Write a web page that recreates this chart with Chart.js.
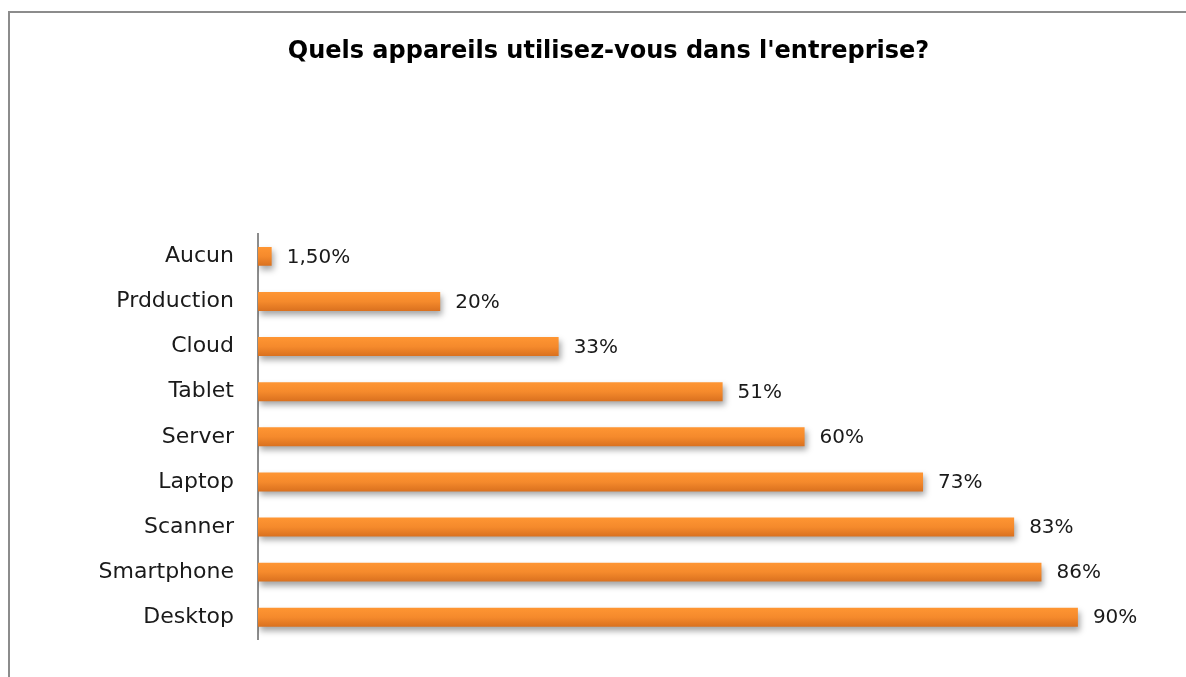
<!DOCTYPE html>
<html>
<head>
<meta charset="utf-8">
<script src="https://cdn.jsdelivr.net/npm/chart.js@4"></script>
<style>
    html, body { margin: 0; padding: 0; background: #fff; }
    #frame {
        position: absolute; left: 8px; top: 11px; width: 1200px; height: 700px;
        border-left: 2px solid #8c8c8c; border-top: 2px solid #8c8c8c;
    }
    #wrap { position: absolute; left: 0; top: 0; width: 1186px; height: 677px; }
</style>
</head>
<body>
<div id="frame"></div>
<div id="wrap"><canvas id="devicesChart"></canvas></div>
<script>
const categories = ['Aucun', 'Prdduction', 'Cloud', 'Tablet', 'Server', 'Laptop', 'Scanner', 'Smartphone', 'Desktop'];
const values = [1.5, 20, 33, 51, 60, 73, 83, 86, 90];
const valueLabels = ['1,50%', '20%', '33%', '51%', '60%', '73%', '83%', '86%', '90%'];

const FONT = "'DejaVu Sans', sans-serif";
const LEFT_PAD = 48;

// ombre portée sous les barres
const shadowPlugin = {
    id: 'barShadow',
    beforeDatasetsDraw(chart) {
        const ctx = chart.ctx;
        ctx.save();
        ctx.shadowColor = 'rgba(0,0,0,0.35)';
        ctx.shadowBlur = 6;
        ctx.shadowOffsetX = 2;
        ctx.shadowOffsetY = 4;
    },
    afterDatasetsDraw(chart) {
        chart.ctx.restore();
    }
};

// étiquettes de valeur à droite des barres
const valueLabelPlugin = {
    id: 'valueLabels',
    afterDatasetsDraw(chart) {
        const ctx = chart.ctx;
        const meta = chart.getDatasetMeta(0);
        ctx.save();
        ctx.font = '20px ' + FONT;
        ctx.fillStyle = '#1a1a1a';
        ctx.textAlign = 'left';
        ctx.textBaseline = 'middle';
        meta.data.forEach((bar, i) => {
            ctx.fillText(valueLabels[i], bar.x + 15, bar.y + 1);
        });
        ctx.restore();
    }
};

function barGradient(context) {
    const chart = context.chart;
    const y = chart.scales.y;
    if (!y || y.top === undefined) return '#f5862a';
    const py = y.getPixelForValue(context.dataIndex);
    const g = chart.ctx.createLinearGradient(0, py - 10, 0, py + 10);
    g.addColorStop(0, '#ff9633');
    g.addColorStop(0.5, '#f58a2c');
    g.addColorStop(1, '#d86f1e');
    return g;
}

const ctx = document.getElementById('devicesChart').getContext('2d');
const chart = new Chart(ctx, {
    type: 'bar',
    data: {
        labels: categories,
        datasets: [{
            data: values,
            backgroundColor: barGradient,
            barPercentage: 0.42,
            categoryPercentage: 1
        }]
    },
    options: {
        indexAxis: 'y',
        responsive: true,
        maintainAspectRatio: false,
        animation: false,
        layout: { padding: { left: LEFT_PAD, right: 17, top: 0, bottom: 35 } },
        plugins: {
            legend: { display: false },
            tooltip: { enabled: false },
            title: {
                display: true,
                text: "Quels appareils utilisez-vous dans l'entreprise?",
                color: '#000',
                font: { family: FONT, size: 24, weight: 'bold' },
                padding: { top: 37, bottom: 168 }
            }
        },
        scales: {
            x: {
                display: false,
                min: 0,
                max: 100
            },
            y: {
                afterFit(scale) { scale.width = 258 - LEFT_PAD; },
                grid: { display: false, drawTicks: false },
                border: { display: true, color: '#8c8c8c', width: 2 },
                ticks: {
                    color: '#1a1a1a',
                    padding: 24,
                    font: { family: FONT, size: 22 }
                }
            }
        }
    },
    plugins: [shadowPlugin, valueLabelPlugin]
});
</script>
</body>
</html>
